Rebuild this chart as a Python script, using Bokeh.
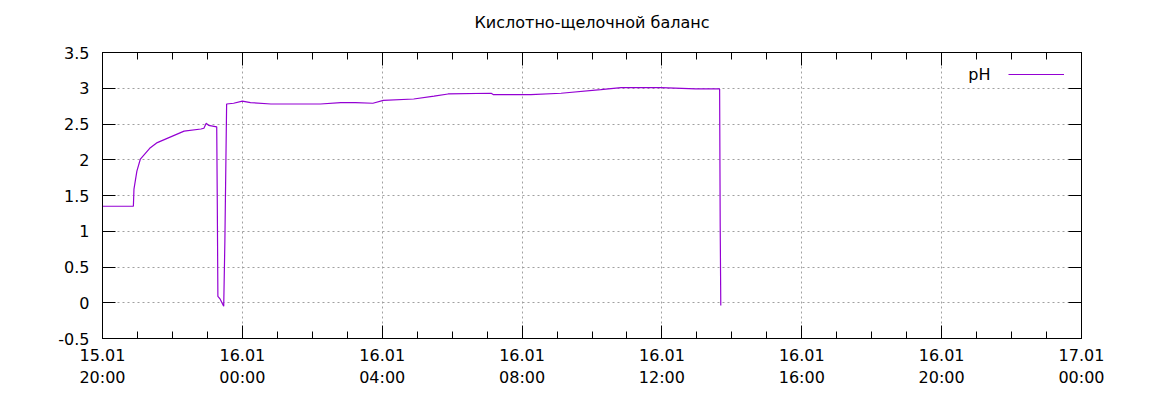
import pandas as pd
from bokeh.plotting import figure
from bokeh.models import (DatetimeAxis, LinearAxis, FixedTicker, DatetimeTickFormatter, Grid,
                          CustomJSTickFormatter, Legend, LegendItem, Label, Range1d, ColumnDataSource)
from bokeh.embed import file_html
from bokeh.resources import INLINE

# ---- data ----
times = [
    "2024-01-15 20:00", "2024-01-15 20:53", "2024-01-15 20:54", "2024-01-15 20:59",
    "2024-01-15 21:05", "2024-01-15 21:21", "2024-01-15 21:34", "2024-01-15 21:57",
    "2024-01-15 22:20", "2024-01-15 22:49", "2024-01-15 22:54", "2024-01-15 22:58",
    "2024-01-15 23:02", "2024-01-15 23:16", "2024-01-15 23:17", "2024-01-15 23:18",
    "2024-01-15 23:22", "2024-01-15 23:28", "2024-01-15 23:30", "2024-01-15 23:33",
    "2024-01-15 23:45", "2024-01-16 00:00", "2024-01-16 00:14", "2024-01-16 00:49",
    "2024-01-16 02:14", "2024-01-16 02:49", "2024-01-16 03:14", "2024-01-16 03:44",
    "2024-01-16 04:02", "2024-01-16 04:54", "2024-01-16 05:29", "2024-01-16 05:53",
    "2024-01-16 07:07", "2024-01-16 07:11", "2024-01-16 08:15", "2024-01-16 09:07",
    "2024-01-16 10:15", "2024-01-16 10:50", "2024-01-16 11:58", "2024-01-16 12:58",
    "2024-01-16 13:39", "2024-01-16 13:40", "2024-01-16 13:41",
]
ph = [
    1.35, 1.35, 1.59, 1.84,
    2.01, 2.16, 2.24, 2.32,
    2.40, 2.43, 2.44, 2.51,
    2.48, 2.46, 1.38, 0.09,
    0.05, -0.05, 0.86, 2.78,
    2.79, 2.82, 2.80, 2.78,
    2.78, 2.80, 2.80, 2.79,
    2.83, 2.85, 2.89, 2.92,
    2.93, 2.91, 2.91, 2.93,
    2.98, 3.01, 3.01, 2.99,
    2.99, 1.07, -0.04,
]
x_start = "2024-01-15 20:00"
x_end = "2024-01-17 00:00"
y_ticks = [-0.5, 0, 0.5, 1, 1.5, 2, 2.5, 3, 3.5]
title_text = "Кислотно-щелочной баланс"
series_name = "pH"

FONT = "DejaVu Sans"
FS = "16px"

t = pd.to_datetime(times)
src = ColumnDataSource(dict(t=t, ph=ph))

t0 = pd.Timestamp(x_start)
t1 = pd.Timestamp(x_end)
major = pd.date_range(t0, t1, freq="4h")
minor = pd.date_range(t0, t1, freq="1h")
to_ms = lambda idx: [float(v.value // 10**6) for v in idx]

W, H = 1153, 394
ML, MR, MT, MB = 102, 72, 52, 56

p = figure(width=W, height=H, x_axis_type=None, y_axis_type=None,
           output_backend="svg", toolbar_location=None,
           x_range=Range1d(t0, t1), y_range=Range1d(-0.5, 3.5),
           min_border_left=ML, min_border_right=MR, min_border_top=MT, min_border_bottom=MB)
p.background_fill_color = "white"
p.border_fill_color = "white"
p.outline_line_color = "black"
p.outline_line_width = 1

# title: a trailing empty line lifts the visible line above the frame
p.title.text = title_text + "\n"
p.title.align = "center"
p.title.text_font = FONT
p.title.text_font_size = FS
p.title.text_font_style = "normal"
p.title.text_color = "#000000"
p.title.standoff = 4

xt = FixedTicker(ticks=to_ms(major), minor_ticks=to_ms(minor))
yt = FixedTicker(ticks=y_ticks, minor_ticks=[])
fmt = "%d.%m\n%H:%M"
xfmt = DatetimeTickFormatter(microseconds=fmt, milliseconds=fmt, seconds=fmt, minsec=fmt,
                             minutes=fmt, hourmin=fmt, hours=fmt, days=fmt, months=fmt, years=fmt)
yfmt = CustomJSTickFormatter(code="return String(Math.round(tick*10)/10);")

for dim, tk in ((0, xt), (1, yt)):
    g = Grid(dimension=dim, ticker=tk, grid_line_color="#a0a0a0",
             grid_line_dash="2 3", grid_line_width=1)
    p.add_layout(g, "center")

def style(ax, labels=True):
    ax.major_tick_in = 13
    ax.major_tick_out = 0
    ax.minor_tick_in = 7
    ax.minor_tick_out = 0
    ax.axis_line_color = "black"
    ax.major_tick_line_color = "black"
    ax.minor_tick_line_color = "black"
    ax.major_label_text_font = FONT
    ax.major_label_text_font_size = FS if labels else "0px"
    ax.major_label_text_color = "black"
    ax.major_label_standoff = 8

xb = DatetimeAxis(ticker=xt, formatter=xfmt)
style(xb)
xb.major_label_standoff = 7
p.add_layout(xb, "below")
xa = DatetimeAxis(ticker=xt, formatter=xfmt)
style(xa, labels=False)
xa.major_label_standoff = 0
p.add_layout(xa, "above")

yl = LinearAxis(ticker=yt, formatter=yfmt)
style(yl)
yl.major_label_standoff = 13
p.add_layout(yl, "left")
yr = LinearAxis(ticker=yt, formatter=yfmt)
style(yr, labels=False)
yr.major_label_standoff = 0
p.add_layout(yr, "right")

r = p.line("t", "ph", source=src, line_color="#9400d3", line_width=1.2)

leg = Legend(items=[LegendItem(label=" ", renderers=[r])], location="top_right",
             glyph_width=56, glyph_height=10, label_height=10, label_width=0, label_standoff=0,
             padding=0, spacing=0, margin=17, border_line_color=None,
             background_fill_alpha=0, label_text_font=FONT, label_text_font_size=FS)
p.add_layout(leg, "center")

lab = Label(x=888, y=264, x_units="screen", y_units="screen", text=series_name,
            text_align="right", text_baseline="middle", text_font=FONT, text_font_size=FS,
            text_color="black")
p.add_layout(lab)

open("out.html", "w").write(file_html(p, INLINE))
